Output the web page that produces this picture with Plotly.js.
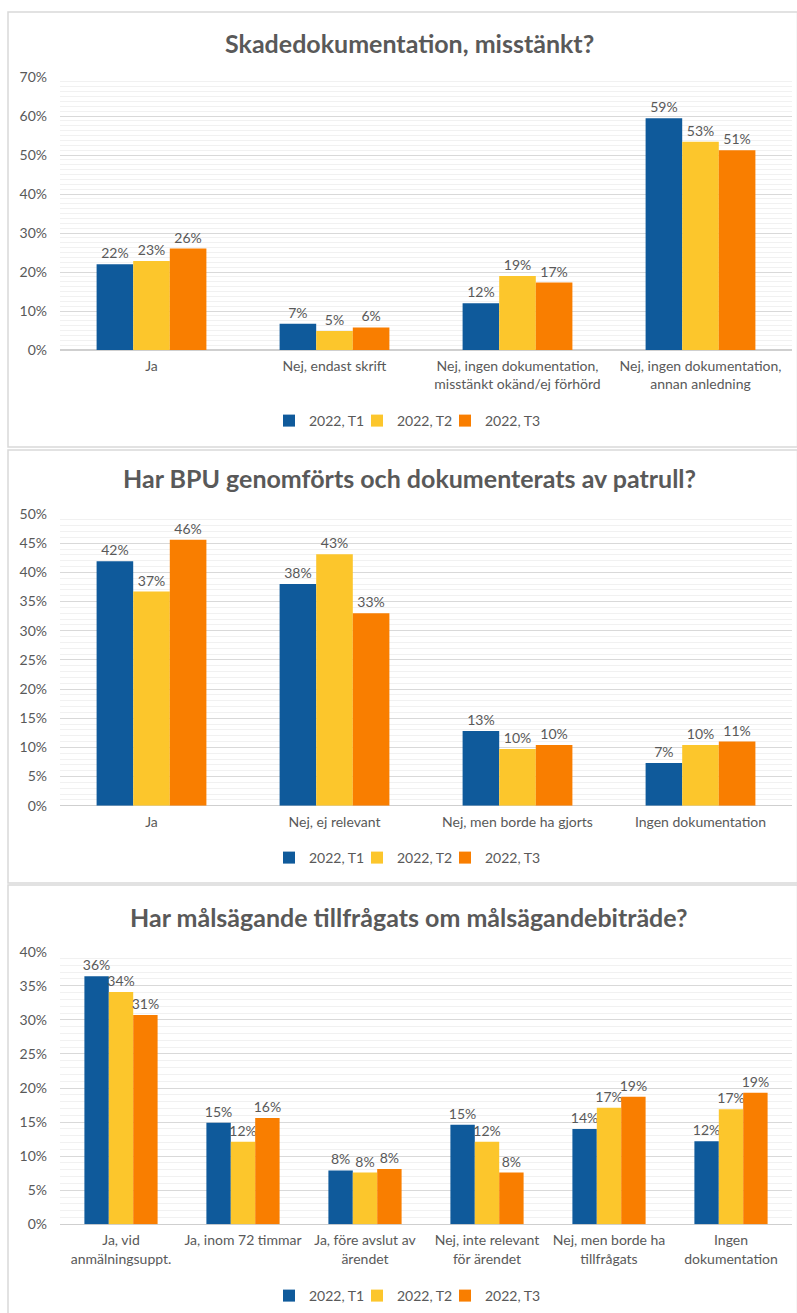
<!DOCTYPE html>
<html><head><meta charset="utf-8">
<script src="https://cdn.plot.ly/plotly-3.0.1.min.js"></script>
<style>html,body{margin:0;padding:0;background:#fff}#chart{width:797px;height:1313px}
[class^="legend"] .scrollbox,.legend .scrollbox,.legend2 .scrollbox,.legend3 .scrollbox{clip-path:none !important}</style>
</head><body><div id="chart"></div>
<script>
const seriesNames = ['2022, T1', '2022, T2', '2022, T3'];
const seriesColors = ['#0F5A9B', '#FCC62C', '#F97E00'];

const title1 = 'Skadedokumentation, misstänkt?';
const cats1 = ['Ja', 'Nej, endast skrift', 'Nej, ingen dokumentation,<br>misstänkt okänd/ej förhörd', 'Nej, ingen dokumentation,<br>annan anledning'];
const t1_1 = [0.220, 0.067, 0.120, 0.594];
const t2_1 = [0.228, 0.049, 0.190, 0.534];
const t3_1 = [0.260, 0.058, 0.173, 0.512];

const title2 = 'Har BPU genomförts och dokumenterats av patrull?';
const cats2 = ['Ja', 'Nej, ej relevant', 'Nej, men borde ha gjorts', 'Ingen dokumentation'];
const t1_2 = [0.419, 0.380, 0.128, 0.073];
const t2_2 = [0.367, 0.431, 0.097, 0.104];
const t3_2 = [0.456, 0.330, 0.104, 0.110];

const title3 = 'Har målsägande tillfrågats om målsägandebiträde?';
const cats3 = ['Ja, vid<br>anmälningsuppt.', 'Ja, inom 72 timmar', 'Ja, före avslut av<br>ärendet', 'Nej, inte relevant<br>för ärendet', 'Nej, men borde ha<br>tillfrågats', 'Ingen<br>dokumentation'];
const t1_3 = [0.364, 0.149, 0.079, 0.146, 0.140, 0.122];
const t2_3 = [0.341, 0.121, 0.076, 0.121, 0.171, 0.169];
const t3_3 = [0.307, 0.156, 0.081, 0.076, 0.187, 0.193];

const W = 797, H = 1313;
const FONT = 'Lato, "Open Sans", sans-serif';
const GREY = '#595959';
const py = p => 1 - p / H;
const px = p => p / W;

const panels = [
  {cats: cats1, vals: [t1_1, t2_1, t3_1], title: title1, range: [0, 0.7], dtick: 0.1, minor: 0.0125, top: 77, bottom: 350, titleY: 43, legendY: 421, box: [12, 447]},
  {cats: cats2, vals: [t1_2, t2_2, t3_2], title: title2, range: [0, 0.5], dtick: 0.05, minor: 0.01, top: 514, bottom: 805.7, titleY: 478, legendY: 858, box: [450, 883]},
  {cats: cats3, vals: [t1_3, t2_3, t3_3], title: title3, range: [0, 0.4], dtick: 0.05, minor: 0.01, top: 951.7, bottom: 1224.3, titleY: 917, legendY: 1296, box: [885, 1330]}
];

const traces = [];
const layout = {
  width: W, height: H,
  margin: {l: 0, r: 0, t: 0, b: 0},
  paper_bgcolor: '#fff', plot_bgcolor: '#fff',
  font: {family: FONT, color: GREY, size: 14},
  barmode: 'group', bargap: 0.4, bargroupgap: 0,
  annotations: [], shapes: []
};

panels.forEach((p, i) => {
  const n = i === 0 ? '' : String(i + 1);
  const legName = 'legend' + n;
  p.vals.forEach((v, s) => {
    traces.push({
      type: 'bar', x: p.cats, y: v, name: seriesNames[s],
      xaxis: 'x' + n, yaxis: 'y' + n, legend: legName,
      marker: {color: seriesColors[s], line: {width: 0}},
      texttemplate: '%{y:.0%}', textposition: 'outside', cliponaxis: false,
      constraintext: 'none',
      textfont: {family: FONT, size: 14, color: GREY},
      hoverinfo: 'skip'
    });
  });
  layout['xaxis' + n] = {
    domain: [px(60), px(792)], anchor: 'y' + n,
    showgrid: false, showline: false, zeroline: false, ticks: '',
    tickfont: {family: FONT, size: 14, color: GREY}, ticklabelstandoff: 6,
    fixedrange: true
  };
  layout['yaxis' + n] = {
    domain: [py(p.bottom), py(p.top)], anchor: 'x' + n,
    range: p.range, dtick: p.dtick, tick0: 0, tickformat: '.0%',
    showgrid: true, gridcolor: '#d9d9d9', gridwidth: 1,
    zeroline: true, zerolinecolor: '#cfcfcf', zerolinewidth: 1.5,
    showline: false, ticks: '',
    minor: {dtick: p.minor, tick0: 0, showgrid: true, gridcolor: '#f1f1f1', gridwidth: 1, ticks: ''},
    tickfont: {family: FONT, size: 14, color: GREY}, ticklabelstandoff: 12,
    fixedrange: true
  };
  layout[legName] = {
    orientation: 'h', x: px(269), xanchor: 'left', y: py(p.legendY), yanchor: 'middle',
    entrywidth: 43, entrywidthmode: 'pixels',
    font: {family: FONT, size: 14, color: GREY}, bgcolor: 'rgba(0,0,0,0)',
    itemclick: false, itemdoubleclick: false
  };
  layout.annotations.push({
    text: '<b>' + p.title + '</b>', xref: 'paper', yref: 'paper',
    x: px(409), y: py(p.titleY), xanchor: 'center', yanchor: 'middle',
    showarrow: false, font: {family: FONT, size: 25, color: GREY}
  });
  layout.shapes.push({
    type: 'rect', xref: 'paper', yref: 'paper',
    x0: px(8), x1: px(797.5), y0: py(p.box[1]), y1: py(p.box[0]),
    line: {color: '#d9d9d9', width: 1.5}, fillcolor: 'rgba(0,0,0,0)', layer: 'below'
  });
});

Plotly.newPlot('chart', traces, layout, {displayModeBar: false, staticPlot: true});
</script></body></html>
